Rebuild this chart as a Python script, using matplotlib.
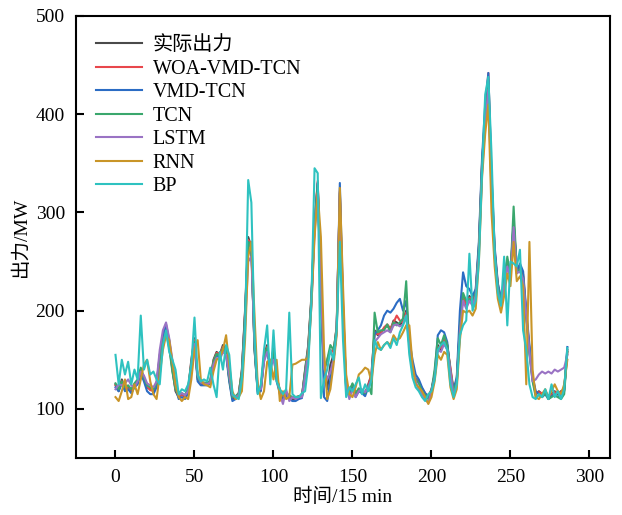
import numpy as np
import matplotlib.pyplot as plt

plt.rcParams['font.family'] = ['Liberation Serif', 'Noto Sans CJK SC']
plt.rcParams['axes.unicode_minus'] = False

# time index (every 2nd 15-min step)
t = np.arange(0, 288, 2)

actual = [125, 118, 130, 120, 122, 118, 125, 128, 140, 130, 122, 120,
          118, 125, 155, 172, 182, 165, 140, 118, 112, 115, 112, 120,
          150, 172, 130, 125, 126, 125, 128, 150, 158, 155, 165, 160,
          130, 110, 112, 115, 140, 200, 275, 265, 160, 118, 120, 155,
          165, 140, 162, 130, 118, 112, 115, 112, 110, 110, 112, 112,
          140, 165, 215, 290, 330, 220, 135, 120, 145, 155, 185, 320,
          200, 120, 118, 125, 115, 120, 118, 115, 125, 135, 180, 175,
          178, 182, 185, 180, 190, 188, 185, 190, 200, 165, 140, 130,
          128, 120, 115, 112, 120, 135, 165, 160, 170, 165, 140, 118,
          130, 185, 215, 205, 215, 210, 220, 265, 350, 400, 435, 330,
          260, 225, 210, 230, 250, 235, 290, 245, 245, 235, 195, 160,
          130, 115, 118, 115, 118, 112, 115, 118, 115, 118, 120, 160]

woa_vmd_tcn = [124, 120, 128, 122, 121, 119, 124, 127, 138, 131, 123, 119,
               119, 124, 152, 170, 180, 167, 142, 120, 113, 114, 113, 119,
               148, 170, 132, 126, 125, 126, 127, 148, 157, 156, 163, 158,
               132, 112, 111, 116, 138, 198, 272, 268, 165, 120, 119, 152,
               163, 142, 160, 132, 119, 113, 114, 113, 111, 111, 113, 113,
               138, 163, 212, 288, 332, 225, 138, 150, 160, 158, 183, 322,
               205, 122, 117, 124, 116, 119, 119, 116, 124, 134, 178, 176,
               177, 183, 186, 182, 188, 195, 190, 188, 198, 168, 142, 131,
               127, 121, 116, 113, 119, 133, 163, 162, 172, 163, 142, 119,
               129, 183, 213, 207, 213, 212, 218, 262, 348, 402, 442, 335,
               262, 227, 212, 228, 248, 237, 288, 240, 243, 237, 197, 162,
               132, 116, 117, 116, 117, 113, 114, 117, 116, 117, 119, 158]

vmd_tcn = [122, 118, 126, 118, 120, 116, 122, 125, 136, 128, 118, 115,
           115, 122, 150, 175, 186, 170, 145, 122, 110, 112, 110, 116,
           145, 168, 128, 124, 124, 124, 126, 146, 155, 152, 160, 155,
           128, 108, 110, 113, 135, 195, 270, 262, 162, 116, 118, 150,
           160, 138, 158, 128, 116, 110, 113, 110, 108, 108, 110, 111,
           136, 160, 210, 285, 330, 222, 112, 108, 130, 150, 180, 330,
           210, 118, 115, 122, 112, 118, 116, 113, 122, 130, 176, 180,
           185, 195, 200, 198, 202, 208, 212, 200, 210, 170, 150, 135,
           130, 122, 116, 112, 118, 135, 175, 180, 178, 168, 135, 120,
           132, 200, 239, 225, 222, 215, 222, 270, 355, 410, 442, 340,
           265, 228, 212, 232, 252, 238, 292, 238, 248, 240, 200, 165,
           133, 118, 115, 112, 115, 110, 113, 115, 112, 115, 118, 163]

tcn = [126, 120, 128, 122, 124, 120, 126, 130, 142, 132, 124, 122,
       120, 126, 152, 168, 178, 162, 138, 120, 114, 116, 114, 121,
       146, 168, 132, 127, 127, 126, 129, 148, 156, 154, 162, 158,
       131, 112, 113, 116, 138, 196, 270, 266, 162, 120, 121, 152,
       162, 142, 160, 132, 120, 114, 116, 114, 112, 112, 113, 113,
       138, 162, 212, 285, 328, 218, 140, 150, 165, 160, 182, 305,
       195, 122, 118, 126, 116, 121, 118, 116, 124, 115, 198, 178,
       180, 180, 186, 178, 188, 185, 188, 192, 230, 160, 138, 130,
       126, 118, 114, 110, 118, 140, 172, 165, 175, 165, 138, 118,
       128, 180, 218, 210, 212, 208, 218, 262, 345, 395, 430, 325,
       258, 225, 208, 228, 255, 235, 306, 240, 242, 232, 192, 155,
       128, 112, 114, 112, 116, 110, 112, 114, 112, 110, 115, 158]

lstm = [120, 125, 124, 126, 130, 124, 122, 128, 138, 134, 126, 124,
        122, 128, 160, 180, 188, 172, 150, 125, 114, 116, 114, 118,
        142, 166, 134, 127, 126, 125, 127, 145, 152, 150, 158, 155,
        135, 114, 112, 114, 130, 185, 250, 255, 170, 122, 120, 148,
        158, 145, 150, 136, 115, 105, 120, 108, 112, 110, 112, 112,
        132, 158, 205, 280, 320, 225, 142, 130, 138, 150, 178, 315,
        200, 125, 110, 120, 112, 118, 120, 117, 122, 130, 168, 172,
        176, 178, 180, 178, 185, 186, 184, 186, 195, 165, 142, 128,
        120, 115, 110, 106, 118, 132, 160, 158, 166, 160, 138, 112,
        125, 178, 210, 202, 210, 205, 215, 258, 340, 390, 425, 320,
        255, 220, 205, 225, 245, 232, 285, 238, 240, 232, 195, 158,
        128, 130, 135, 138, 136, 138, 136, 140, 138, 140, 142, 155]

rnn = [112, 108, 118, 130, 110, 112, 125, 115, 130, 145, 150, 128,
       115, 110, 135, 160, 175, 170, 148, 125, 112, 108, 112, 110,
       130, 160, 170, 130, 125, 124, 122, 138, 150, 152, 160, 175,
       145, 118, 110, 112, 118, 170, 255, 270, 195, 125, 110, 118,
       148, 150, 130, 150, 108, 118, 110, 112, 145, 146, 148, 150,
       150, 152, 205, 275, 320, 275, 160, 110, 120, 145, 175, 325,
       225, 135, 115, 112, 122, 135, 138, 142, 140, 128, 155, 168,
       160, 165, 168, 165, 175, 170, 172, 178, 185, 185, 145, 125,
       122, 118, 112, 105, 112, 128, 155, 150, 158, 155, 122, 110,
       120, 170, 200, 198, 200, 195, 202, 250, 335, 380, 410, 300,
       245, 212, 198, 215, 238, 225, 270, 230, 235, 225, 125, 270,
       140, 112, 110, 115, 120, 112, 118, 125, 118, 115, 125, 150]

bp = [155, 125, 150, 135, 148, 125, 140, 130, 195, 140, 150, 135,
      138, 130, 125, 165, 180, 158, 150, 140, 115, 120, 118, 125,
      145, 193, 135, 128, 130, 128, 142, 125, 112, 158, 140, 165,
      155, 115, 112, 110, 130, 180, 333, 310, 175, 115, 125, 160,
      185, 125, 180, 128, 120, 115, 120, 198, 115, 112, 112, 116,
      118, 145, 210, 345, 340, 111, 130, 140, 160, 150, 180, 270,
      170, 112, 122, 118, 125, 132, 115, 125, 118, 130, 170, 162,
      160, 165, 168, 162, 172, 165, 178, 185, 195, 155, 132, 122,
      118, 112, 108, 115, 118, 130, 160, 165, 168, 160, 125, 112,
      125, 175, 185, 190, 258, 200, 210, 250, 340, 420, 438, 360,
      258, 218, 205, 255, 185, 250, 248, 245, 262, 180, 160, 125,
      112, 110, 115, 112, 120, 110, 125, 112, 118, 110, 120, 162]

labels = ['实际出力', 'WOA-VMD-TCN', 'VMD-TCN', 'TCN', 'LSTM', 'RNN', 'BP']
series = [actual, woa_vmd_tcn, vmd_tcn, tcn, lstm, rnn, bp]
colors = ['#4a4a4a', '#e8474c', '#2b6cc4', '#3aa76d', '#9a73c4', '#c99528', '#2ec2c0']

fig = plt.figure(figsize=(6.22, 5.15), dpi=100)
ax = fig.add_axes([76 / 622, 57 / 515, 534 / 622, 442 / 515])

for y, c, lab in zip(series, colors, labels):
    ax.plot(t, y, color=c, lw=1.5, label=lab)

ax.set_xlim(-25, 313)
ax.set_ylim(50, 500)
ax.set_xticks([0, 50, 100, 150, 200, 250, 300])
ax.set_yticks([100, 200, 300, 400, 500])
ax.tick_params(direction='in', length=6, width=1.5, labelsize=14, pad=8)
for s in ax.spines.values():
    s.set_linewidth(1.5)

ax.set_xlabel('时间/15 min', fontsize=14, labelpad=1)
ax.set_ylabel('出力/MW', fontsize=14, labelpad=4)

ax.legend(loc='upper left', frameon=False, fontsize=14.5, handlelength=2.3,
          handletextpad=0.5, labelspacing=0.22, borderaxespad=0.6)

fig.savefig('out.png', dpi=100)
